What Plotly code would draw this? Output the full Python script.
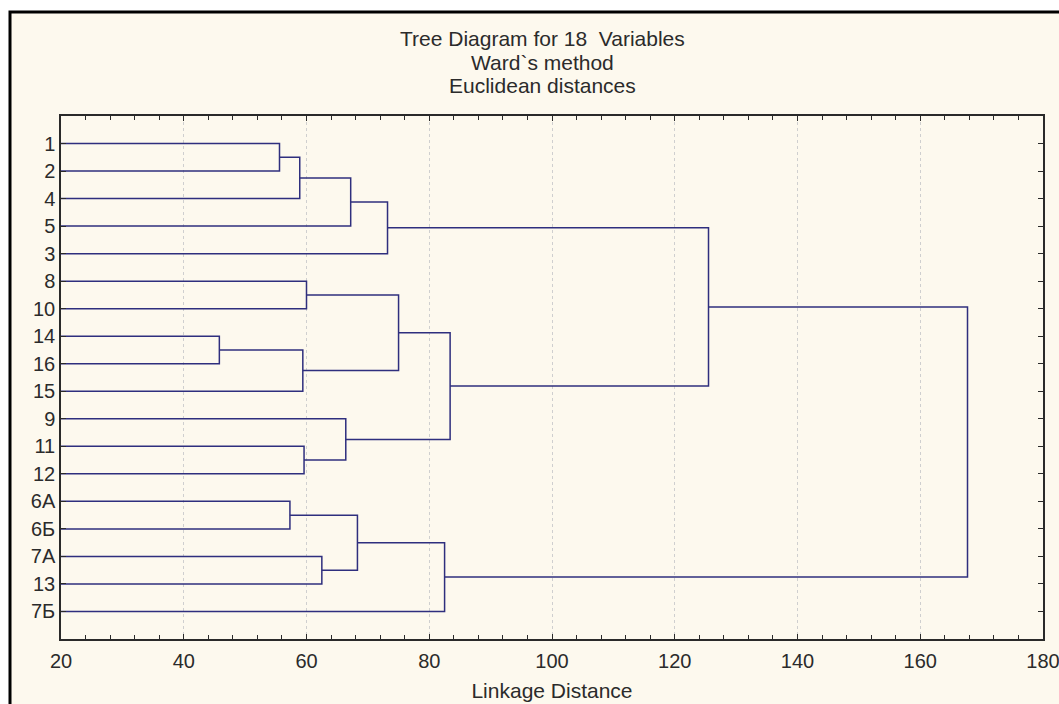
import plotly.graph_objects as go

# Leaf order along the vertical axis (top to bottom)
leaf_labels = ["1", "2", "4", "5", "3", "8", "10", "14", "16", "15",
               "9", "11", "12", "6А", "6Б", "7А", "13", "7Б"]

# Agglomeration steps (Ward's method): cluster name, its two members, linkage distance
cluster_names = ["c1", "c2", "c3", "c4", "c5", "c6", "c7", "c8", "c9",
                 "c10", "c11", "c12", "c13", "c14", "c15", "c16", "c17"]
member_a = ["1", "c1", "c2", "c3", "8", "14", "c6", "c5", "11",
            "9", "c8", "c4", "6А", "7А", "c13", "c15", "c12"]
member_b = ["2", "4", "5", "3", "10", "16", "15", "c7", "12",
            "c9", "c10", "c11", "6Б", "13", "c14", "7Б", "c16"]
linkage_dist = [55.6, 58.9, 67.2, 73.2, 60.0, 45.8, 59.4, 75.0, 59.6,
                66.4, 83.4, 125.5, 57.3, 62.5, 68.3, 82.5, 167.7]

x_ticks = [20, 40, 60, 80, 100, 120, 140, 160, 180]

# Position of every node: leaves sit at distance 0, clusters at their linkage distance,
# vertically each cluster sits midway between its two members.
node_x = {lab: 0.0 for lab in leaf_labels}
node_y = {lab: i + 1 for i, lab in enumerate(leaf_labels)}

xs, ys = [], []
for name, a, b, d in zip(cluster_names, member_a, member_b, linkage_dist):
    xs += [node_x[a], d, d, node_x[b], None]
    ys += [node_y[a], node_y[a], node_y[b], node_y[b], None]
    node_x[name] = d
    node_y[name] = (node_y[a] + node_y[b]) / 2

line_color = "#2F2F7E"
axis_color = "#2a2a2a"
text_color = "#2b2b2b"
font_family = "Liberation Sans, Arial, sans-serif"
fsize = 20
title_size = 21

fig = go.Figure()
fig.add_trace(go.Scatter(
    x=xs, y=ys, mode="lines",
    line=dict(color=line_color, width=1.5),
    hoverinfo="skip", showlegend=False,
))

W, H = 1059, 704
ml, mr, mt, mb = 61, 16, 116, 65
pw, ph = W - ml - mr, H - mt - mb


def px_x(p):
    return (p - ml) / pw


def px_y(p):
    return (H - mb - p) / ph


# Cream panel with black frame behind the whole chart
fig.add_shape(type="rect", xref="paper", yref="paper",
              x0=px_x(10), x1=px_x(W + 20), y0=px_y(H + 20), y1=px_y(12),
              fillcolor="#FDF9EE", line=dict(color="black", width=3),
              layer="below")

title_lines = ["Tree Diagram for 18  Variables", "Ward`s method", "Euclidean distances"]
for i, t in enumerate(title_lines):
    fig.add_annotation(text=t, xref="paper", yref="paper",
                       x=px_x(542), y=px_y(39 + 23 * i),
                       xanchor="center", yanchor="middle", showarrow=False,
                       font=dict(family=font_family, size=title_size, color=text_color))

fig.update_layout(
    width=W, height=H,
    margin=dict(l=ml, r=mr, t=mt, b=mb, autoexpand=False),
    paper_bgcolor="white",
    plot_bgcolor="white",
    font=dict(family=font_family, size=fsize, color=text_color),
)

fig.update_xaxes(
    range=[20, 180],
    tickvals=x_ticks,
    automargin=False,
    ticklabeloverflow="allow",
    ticks="inside", ticklen=5, tickwidth=1.2, tickcolor=axis_color,
    minor=dict(dtick=4, tick0=20, ticks="inside", ticklen=4, tickwidth=1.2,
               tickcolor=axis_color, showgrid=False),
    showline=True, linecolor=axis_color, linewidth=1.5, mirror="allticks",
    showgrid=True, gridcolor="#cfcfcf", griddash="dot", gridwidth=1,
    zeroline=False,
    tickfont=dict(size=fsize),
    ticklabelstandoff=3,
    title=dict(text="Linkage Distance", font=dict(size=title_size), standoff=13),
)

fig.update_yaxes(
    range=[19, 0],
    tickvals=list(range(1, len(leaf_labels) + 1)),
    ticktext=leaf_labels,
    automargin=False,
    ticks="inside", ticklen=5, tickwidth=1.2, tickcolor=axis_color,
    showline=True, linecolor=axis_color, linewidth=1.5, mirror="allticks",
    showgrid=False, zeroline=False,
    tickfont=dict(size=fsize),
)

fig.write_html("out.html")
